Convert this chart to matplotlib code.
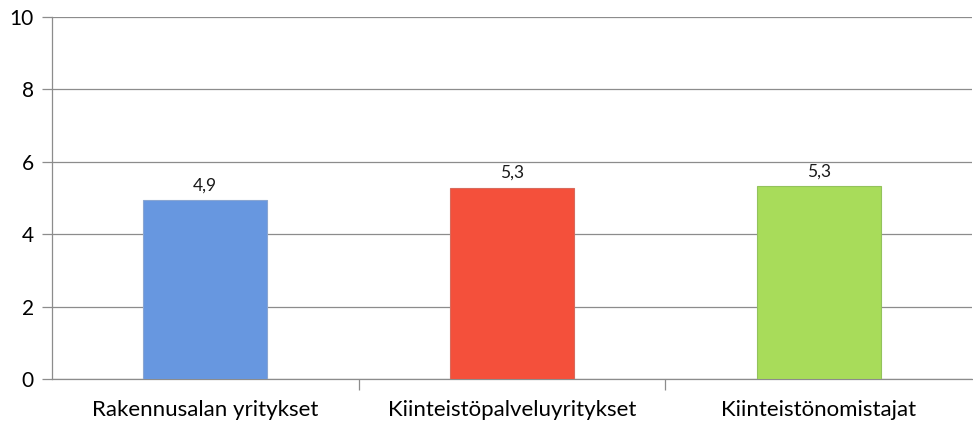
import numpy as np
from matplotlib import pyplot as plt

categories = ['Rakennusalan yritykset', 'Kiinteistöpalveluyritykset', 'Kiinteistönomistajat']
values = [4.94, 5.28, 5.33]
labels = ['4,9', '5,3', '5,3']
colors = ['#6797e0', '#f4503b', '#a8dc5a']
edges = ['#8aa6d2', '#d86a5c', '#93c25c']
y_ticks = [0, 2, 4, 6, 8, 10]

plt.rcParams['font.family'] = ['Lato', 'DejaVu Sans']

fig = plt.figure(figsize=(9.73, 4.25), dpi=100)
ax = fig.add_axes([0.0534, 0.108, 0.9456, 0.852])

x = np.arange(len(categories))
ax.bar(x, values, width=0.404, color=colors, edgecolor=edges, linewidth=0.8, zorder=3)
for xi, v, lab in zip(x, values, labels):
    ax.annotate(lab, (xi, v), xytext=(0, 5), textcoords='offset points',
                ha='center', va='bottom', fontsize=12.5, color='#1a1a1a')

ax.set_xlim(-0.5, 2.5)
ax.set_ylim(0, 10)
ax.set_yticks(y_ticks)
ax.yaxis.grid(True, color='#8c8c8c', linewidth=0.9, zorder=0)
ax.set_axisbelow(True)

ax.set_xticks(x)
ax.set_xticklabels(categories, fontsize=16)
ax.set_xticks([0.5, 1.5], minor=True)
ax.tick_params(axis='x', which='major', length=0, pad=15)
ax.tick_params(axis='x', which='minor', length=8, color='#8c8c8c', width=0.9)
ax.tick_params(axis='y', length=7, color='#8c8c8c', width=0.9, labelsize=15, pad=6)

for s in ['top', 'right']:
    ax.spines[s].set_visible(False)
for s in ['left', 'bottom']:
    ax.spines[s].set_color('#8c8c8c')
    ax.spines[s].set_linewidth(0.9)

fig.savefig('out.png', dpi=100)
